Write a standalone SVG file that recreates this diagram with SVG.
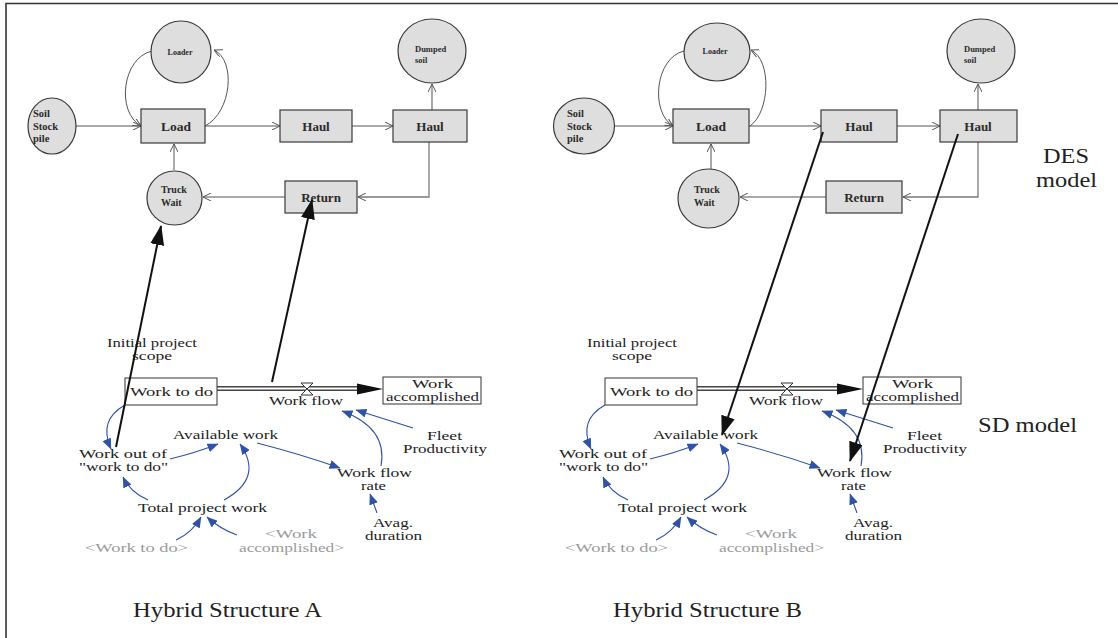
<svg xmlns="http://www.w3.org/2000/svg" width="1118" height="638" viewBox="0 0 1118 638">
  <style>
    .bg { fill: #ffffff; }
    .frame { stroke: #333; stroke-width: 1.6; fill: none; }
    .node { fill: #dedede; stroke: #3a3a3a; stroke-width: 1.2; }
    .des { font-weight: bold; fill: #2a2a2a; }
    .link { fill: none; stroke: #555; stroke-width: 1; marker-end: url(#open); }
    .link2 { fill: none; stroke: #7a7a7a; stroke-width: 1.3; marker-end: url(#open); }
    .bind { fill: none; stroke: #111; stroke-width: 2; marker-end: url(#big); }
    .cause { fill: none; stroke: #2f51a6; stroke-width: 1.1; marker-end: url(#blue); }
    .sd { font-size: 12.5px; fill: #222; }
    .ghost { fill: #9a9a9a; }
    .stock { fill: #fff; stroke: #333; stroke-width: 1; }
    .title { font-size: 20px; fill: #222; }
  </style>
  <defs>
    <marker id="open" viewBox="0 0 8 8" refX="8" refY="4" markerWidth="8" markerHeight="8" markerUnits="userSpaceOnUse" orient="auto">
      <path d="M0,0 L8,4 L0,8" fill="none" stroke="#555" stroke-width="1"/>
    </marker>
    <marker id="big" viewBox="0 0 20 14" refX="19" refY="7" markerWidth="20" markerHeight="14" markerUnits="userSpaceOnUse" orient="auto">
      <path d="M0,0 L20,7 L0,14 Z" fill="#111"/>
    </marker>
    <marker id="blue" viewBox="0 0 11 9" refX="10.5" refY="4.5" markerWidth="11" markerHeight="9" markerUnits="userSpaceOnUse" orient="auto">
      <path d="M0,0 L11,4.5 L0,9 Z" fill="#2f51a6"/>
    </marker>
  </defs>

  <rect class="bg" x="0" y="0" width="1118" height="638"/>
  <!-- outer frame: top and left rules -->
  <path class="frame" d="M6,638 L6,3.5 L1118,3.5"/>

  <g font-family="'Liberation Serif', 'DejaVu Serif', serif">

  <!-- ===== Hybrid Structure A : DES part ===== -->
  <g id="des-a-connectors">
    <path class="link" d="M76,126 L141,126"/>
    <path class="link" d="M152,51 C122,58 116,112 141,126"/>
    <path class="link" d="M205,126 C232,112 236,60 214,50"/>
    <path class="link" d="M205,126 L280,126"/>
    <path class="link" d="M352,126 L393,126"/>
    <path class="link2" d="M432,110 L432,84"/>
    <path class="link2" d="M429,142 L429,197 L358,197"/>
    <path class="link" d="M285,197 L203,197"/>
    <path class="link" d="M174,170 L174,144"/>
  </g>
  <g id="a-soil">
    <ellipse class="node" cx="52" cy="126" rx="24" ry="28"/>
    <text class="des" font-size="10.5" x="33" y="117">Soil</text>
    <text class="des" font-size="10.5" x="33" y="130">Stock</text>
    <text class="des" font-size="10.5" x="33" y="142">pile</text>
  </g>
  <g id="a-loader">
    <ellipse class="node" cx="181" cy="52" rx="30" ry="31"/>
    <text class="des" font-size="8" x="180" y="55" text-anchor="middle">Loader</text>
  </g>
  <g id="a-load">
    <rect class="node" x="141" y="109" width="64" height="34"/>
    <text class="des" font-size="13.5" x="176" y="131" text-anchor="middle">Load</text>
  </g>
  <g id="a-haul1">
    <rect class="node" x="280" y="110" width="72" height="32"/>
    <text class="des" font-size="13" x="316" y="131" text-anchor="middle">Haul</text>
  </g>
  <g id="a-haul2">
    <rect class="node" x="393" y="110" width="74" height="32"/>
    <text class="des" font-size="13" x="430" y="131" text-anchor="middle">Haul</text>
  </g>
  <g id="a-dumped">
    <ellipse class="node" cx="432" cy="51" rx="34" ry="32"/>
    <text class="des" font-size="8.5" x="415" y="52">Dumped</text>
    <text class="des" font-size="8.5" x="415" y="63">soil</text>
  </g>
  <g id="a-return">
    <rect class="node" x="285" y="181" width="72" height="32"/>
    <text class="des" font-size="13" x="321" y="202" text-anchor="middle">Return</text>
  </g>
  <g id="a-truck">
    <ellipse class="node" cx="174.5" cy="198" rx="27.5" ry="27"/>
    <text class="des" font-size="10" x="161" y="193">Truck</text>
    <text class="des" font-size="10" x="161" y="206">Wait</text>
  </g>

  <!-- ===== Hybrid Structure A : SD part ===== -->
  <g id="sd-a-connectors">
    <path d="M217,388.5 L360,388.5" stroke="#444" stroke-width="5" fill="none"/>
    <path d="M217,388.5 L360,388.5" stroke="#fff" stroke-width="2" fill="none"/>
    <polygon points="357,383.5 383,389 357,394.5" fill="#111"/>
    <path d="M301,383 L313,383 L301,395 L313,395 Z" fill="#fff" stroke="#333" stroke-width="1"/>
    <path class="cause" d="M125,405 Q98,420 111,449"/>
    <path class="cause" d="M170,459 Q195,453 218,444"/>
    <path class="cause" d="M148,500 Q130,492 123,477"/>
    <path class="cause" d="M224,500 Q264,478 240,444"/>
    <path class="cause" d="M257,443 Q300,454 340,468"/>
    <path class="cause" d="M381,466 Q388,428 342,411"/>
    <path class="cause" d="M413,428 L356,410"/>
    <path class="cause" d="M377,513 L370,494"/>
    <path class="cause" d="M176,540 Q192,533 201,517"/>
    <path class="cause" d="M237,535 Q220,529 207,517"/>
  </g>
  <g id="a-initial">
    <text class="sd" x="107" y="346.5" textLength="90" lengthAdjust="spacingAndGlyphs">Initial project</text>
    <text class="sd" x="132" y="359.5" textLength="40" lengthAdjust="spacingAndGlyphs">scope</text>
  </g>
  <g id="a-worktodo">
    <rect class="stock" x="125" y="378" width="92" height="27"/>
    <text class="sd" x="130" y="396" textLength="83" lengthAdjust="spacingAndGlyphs">Work to do</text>
  </g>
  <g id="a-workflow">
    <text class="sd" x="269" y="405" textLength="74" lengthAdjust="spacingAndGlyphs">Work flow</text>
  </g>
  <g id="a-accomplished">
    <rect class="stock" x="383" y="377" width="98" height="27"/>
    <text class="sd" x="412" y="388" textLength="41" lengthAdjust="spacingAndGlyphs">Work</text>
    <text class="sd" x="386" y="401" textLength="93" lengthAdjust="spacingAndGlyphs">accomplished</text>
  </g>
  <g id="a-available">
    <text class="sd" x="173" y="439" textLength="105" lengthAdjust="spacingAndGlyphs">Available work</text>
  </g>
  <g id="a-workout">
    <text class="sd" x="79" y="458" textLength="88" lengthAdjust="spacingAndGlyphs">Work out of</text>
    <text class="sd" x="79" y="471" textLength="89" lengthAdjust="spacingAndGlyphs">"work to do"</text>
  </g>
  <g id="a-total">
    <text class="sd" x="138" y="512" textLength="129" lengthAdjust="spacingAndGlyphs">Total project work</text>
  </g>
  <g id="a-ghost-todo">
    <text class="sd ghost" x="85" y="552" textLength="103" lengthAdjust="spacingAndGlyphs">&lt;Work to do&gt;</text>
  </g>
  <g id="a-ghost-acc">
    <text class="sd ghost" x="265" y="538" textLength="52" lengthAdjust="spacingAndGlyphs">&lt;Work</text>
    <text class="sd ghost" x="239" y="552" textLength="105" lengthAdjust="spacingAndGlyphs">accomplished&gt;</text>
  </g>
  <g id="a-rate">
    <text class="sd" x="337" y="476.5" textLength="75" lengthAdjust="spacingAndGlyphs">Work flow</text>
    <text class="sd" x="361" y="489.5" textLength="25" lengthAdjust="spacingAndGlyphs">rate</text>
  </g>
  <g id="a-duration">
    <text class="sd" x="373" y="527" textLength="40" lengthAdjust="spacingAndGlyphs">Avag.</text>
    <text class="sd" x="365" y="540" textLength="57" lengthAdjust="spacingAndGlyphs">duration</text>
  </g>
  <g id="a-fleet">
    <text class="sd" x="427" y="440" textLength="35" lengthAdjust="spacingAndGlyphs">Fleet</text>
    <text class="sd" x="403" y="453" textLength="84" lengthAdjust="spacingAndGlyphs">Productivity</text>
  </g>

  <!-- links from SD model into DES model (structure A) -->
  <g id="a-bindings">
    <path class="bind" d="M116,447 L161,226"/>
    <path class="bind" d="M272,382 L312,200"/>
  </g>
  <text class="title" x="133" y="617" textLength="189" lengthAdjust="spacingAndGlyphs">Hybrid Structure A</text>

  <!-- ===== Hybrid Structure B : DES part ===== -->
  <g id="des-b-connectors">
    <path class="link" d="M614,126 L673,126"/>
    <path class="link" d="M684,51 C655,58 650,112 673,126"/>
    <path class="link" d="M750,126 C770,112 772,60 751,50"/>
    <path class="link" d="M749,126 L821,126"/>
    <path class="link" d="M897,126 L940,126"/>
    <path class="link2" d="M978,110 L978,84"/>
    <path class="link2" d="M978,142 L978,197 L903,197"/>
    <path class="link" d="M826,197 L740,197"/>
    <path class="link" d="M711,169 L711,144"/>
  </g>
  <g id="b-soil">
    <ellipse class="node" cx="584" cy="126" rx="30.5" ry="28"/>
    <text class="des" font-size="10.5" x="567" y="117">Soil</text>
    <text class="des" font-size="10.5" x="567" y="130">Stock</text>
    <text class="des" font-size="10.5" x="567" y="142">pile</text>
  </g>
  <g id="b-loader">
    <ellipse class="node" cx="717" cy="52" rx="33" ry="29"/>
    <text class="des" font-size="8" x="715" y="54" text-anchor="middle">Loader</text>
  </g>
  <g id="b-load">
    <rect class="node" x="673" y="109" width="76" height="34"/>
    <text class="des" font-size="13.5" x="711" y="131" text-anchor="middle">Load</text>
  </g>
  <g id="b-haul1">
    <rect class="node" x="821" y="110" width="76" height="32"/>
    <text class="des" font-size="13" x="859" y="131" text-anchor="middle">Haul</text>
  </g>
  <g id="b-haul2">
    <rect class="node" x="940" y="110" width="77" height="32"/>
    <text class="des" font-size="13" x="978" y="131" text-anchor="middle">Haul</text>
  </g>
  <g id="b-dumped">
    <ellipse class="node" cx="981" cy="51" rx="34" ry="32"/>
    <text class="des" font-size="8.5" x="964" y="52">Dumped</text>
    <text class="des" font-size="8.5" x="964" y="63">soil</text>
  </g>
  <g id="b-return">
    <rect class="node" x="826" y="181" width="76" height="32"/>
    <text class="des" font-size="13" x="864" y="202" text-anchor="middle">Return</text>
  </g>
  <g id="b-truck">
    <ellipse class="node" cx="708.5" cy="198.5" rx="30.5" ry="29.5"/>
    <text class="des" font-size="10" x="694" y="193">Truck</text>
    <text class="des" font-size="10" x="694" y="206">Wait</text>
  </g>

  <!-- ===== Hybrid Structure B : SD part (same layout, shifted) ===== -->
  <g id="sd-b" transform="translate(480,0)">
    <g id="sd-b-connectors">
      <path d="M217,388.5 L360,388.5" stroke="#444" stroke-width="5" fill="none"/>
      <path d="M217,388.5 L360,388.5" stroke="#fff" stroke-width="2" fill="none"/>
      <polygon points="357,383.5 383,389 357,394.5" fill="#111"/>
      <path d="M301,383 L313,383 L301,395 L313,395 Z" fill="#fff" stroke="#333" stroke-width="1"/>
      <path class="cause" d="M125,405 Q98,420 111,449"/>
      <path class="cause" d="M170,459 Q195,453 218,444"/>
      <path class="cause" d="M148,500 Q130,492 123,477"/>
      <path class="cause" d="M224,500 Q264,478 240,444"/>
      <path class="cause" d="M257,443 Q300,454 340,468"/>
      <path class="cause" d="M381,466 Q388,428 342,411"/>
      <path class="cause" d="M413,428 L356,410"/>
      <path class="cause" d="M377,513 L370,494"/>
      <path class="cause" d="M176,540 Q192,533 201,517"/>
      <path class="cause" d="M237,535 Q220,529 207,517"/>
    </g>
    <g id="b-initial">
      <text class="sd" x="107" y="346.5" textLength="90" lengthAdjust="spacingAndGlyphs">Initial project</text>
      <text class="sd" x="132" y="359.5" textLength="40" lengthAdjust="spacingAndGlyphs">scope</text>
    </g>
    <g id="b-worktodo">
      <rect class="stock" x="125" y="378" width="92" height="27"/>
      <text class="sd" x="130" y="396" textLength="83" lengthAdjust="spacingAndGlyphs">Work to do</text>
    </g>
    <g id="b-workflow">
      <text class="sd" x="269" y="405" textLength="74" lengthAdjust="spacingAndGlyphs">Work flow</text>
    </g>
    <g id="b-accomplished">
      <rect class="stock" x="383" y="377" width="98" height="27"/>
      <text class="sd" x="412" y="388" textLength="41" lengthAdjust="spacingAndGlyphs">Work</text>
      <text class="sd" x="386" y="401" textLength="93" lengthAdjust="spacingAndGlyphs">accomplished</text>
    </g>
    <g id="b-available">
      <text class="sd" x="173" y="439" textLength="105" lengthAdjust="spacingAndGlyphs">Available work</text>
    </g>
    <g id="b-workout">
      <text class="sd" x="79" y="458" textLength="88" lengthAdjust="spacingAndGlyphs">Work out of</text>
      <text class="sd" x="79" y="471" textLength="89" lengthAdjust="spacingAndGlyphs">"work to do"</text>
    </g>
    <g id="b-total">
      <text class="sd" x="138" y="512" textLength="129" lengthAdjust="spacingAndGlyphs">Total project work</text>
    </g>
    <g id="b-ghost-todo">
      <text class="sd ghost" x="85" y="552" textLength="103" lengthAdjust="spacingAndGlyphs">&lt;Work to do&gt;</text>
    </g>
    <g id="b-ghost-acc">
      <text class="sd ghost" x="265" y="538" textLength="52" lengthAdjust="spacingAndGlyphs">&lt;Work</text>
      <text class="sd ghost" x="239" y="552" textLength="105" lengthAdjust="spacingAndGlyphs">accomplished&gt;</text>
    </g>
    <g id="b-rate">
      <text class="sd" x="337" y="476.5" textLength="75" lengthAdjust="spacingAndGlyphs">Work flow</text>
      <text class="sd" x="361" y="489.5" textLength="25" lengthAdjust="spacingAndGlyphs">rate</text>
    </g>
    <g id="b-duration">
      <text class="sd" x="373" y="527" textLength="40" lengthAdjust="spacingAndGlyphs">Avag.</text>
      <text class="sd" x="365" y="540" textLength="57" lengthAdjust="spacingAndGlyphs">duration</text>
    </g>
    <g id="b-fleet">
      <text class="sd" x="427" y="440" textLength="35" lengthAdjust="spacingAndGlyphs">Fleet</text>
      <text class="sd" x="403" y="453" textLength="84" lengthAdjust="spacingAndGlyphs">Productivity</text>
    </g>
    <text class="title" x="133" y="617" textLength="189" lengthAdjust="spacingAndGlyphs">Hybrid Structure B</text>
  </g>

  <!-- links from DES model into SD model (structure B) -->
  <g id="b-bindings">
    <path class="bind" d="M823,132 L722,435"/>
    <path class="bind" d="M958,134 L850,461"/>
  </g>

  <!-- model labels -->
  <text class="title" x="1043" y="163" textLength="46" lengthAdjust="spacingAndGlyphs">DES</text>
  <text class="title" x="1036" y="187" textLength="61" lengthAdjust="spacingAndGlyphs">model</text>
  <text class="title" x="978" y="432" textLength="99" lengthAdjust="spacingAndGlyphs">SD model</text>

  </g>
</svg>
